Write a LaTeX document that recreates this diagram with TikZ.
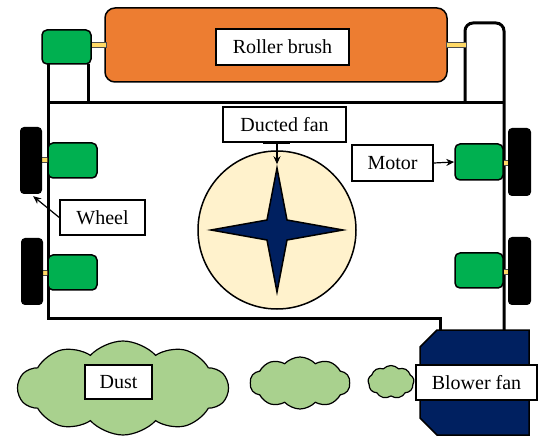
\documentclass[tikz,border=0pt]{standalone}
\usepackage{fontspec}
\setmainfont{Liberation Serif}
\newfontfamily\labelfont{Liberation Serif}
\usetikzlibrary{arrows.meta,shapes.symbols}
\definecolor{brushorange}{HTML}{ED7D31}
\definecolor{motorgreen}{HTML}{00B050}
\definecolor{shaftyellow}{HTML}{FFD966}
\definecolor{fancream}{HTML}{FFF2CC}
\definecolor{navyblue}{HTML}{002060}
\definecolor{dustgreen}{HTML}{A9D18E}

\tikzset{
  frame/.style={line width=3pt, line join=miter},
  labelbox/.style={draw, fill=white, line width=1.5pt, inner sep=0pt,
    font=\labelfont\fontsize{20}{24}\selectfont},
  motor/.style={draw, fill=motorgreen, line width=1.5pt, rounded corners=5pt,
    inner sep=0pt, minimum width=49pt, minimum height=35pt},
  wheel/.style={fill=black, rounded corners=4pt, inner sep=0pt,
    minimum width=22pt, minimum height=67pt},
  shaft/.style={fill=shaftyellow, draw=black!70, line width=0.4pt},
  pointer/.style={line width=1.2pt, -{Stealth[length=8pt,width=7pt]}},
  dust/.style={cloud, cloud ignores aspect, draw, fill=dustgreen,
    line width=1.2pt, inner sep=0pt, cloud puff arc=95}
}

\begin{document}
\begin{tikzpicture}[x=1pt,y=-1pt]
\useasboundingbox (0,0) rectangle (538,438);

% chassis frame and wiring
\draw[frame] (48,64) -- (48,318) -- (440,318) -- (440,332);
\draw[frame] (88,64) -- (88,103);
\draw[frame] (48,103) -- (504,103);
\draw[frame, rounded corners=8pt] (465,103) -- (465,23) -- (504,23) -- (504,332);

% roller brush
\node[draw, fill=brushorange, line width=1.5pt, rounded corners=10pt,
      minimum width=342pt, minimum height=74pt, inner sep=0pt] (brush) at (276,45) {};
\node[labelbox, minimum width=133pt, minimum height=36pt] (brushlabel) at (282.5,47) {Roller brush};

% shafts
\draw[shaft] (89,42) rectangle (106,47);
\draw[shaft] (446,42) rectangle (466,47);
\draw[shaft] (40,157) rectangle (51,162);
\draw[shaft] (40,270) rectangle (51,275);
\draw[shaft] (497,160) rectangle (510,165);
\draw[shaft] (497,269) rectangle (510,274);

% motors
\node[motor, minimum height=34pt] (motorT) at (66.5,47) {};
\node[motor] (motorL1) at (72.5,160.5) {};
\node[motor] (motorL2) at (72.5,272.5) {};
\node[motor, minimum width=48pt, minimum height=36pt] (motorR1) at (479,162) {};
\node[motor, minimum width=48pt] (motorR2) at (479,270.5) {};

% wheels
\node[wheel] (wheelL1) at (31,160.5) {};
\node[wheel] (wheelL2) at (32,271.5) {};
\node[wheel, minimum width=23pt, minimum height=68pt] (wheelR1) at (519.5,162) {};
\node[wheel, minimum width=23pt, minimum height=68pt] (wheelR2) at (519.5,271) {};

% ducted fan
\node[circle, draw, fill=fancream, line width=1.5pt, minimum size=158pt, inner sep=0pt] (fan) at (277,230) {};
\draw[fill=navyblue, line width=1.5pt, line join=miter]
  (277,168) -- (287,220) -- (343,230) -- (287,240) -- (277,292)
  -- (267,240) -- (211,230) -- (267,220) -- cycle;

% labels and pointers
\node[labelbox, minimum width=123pt, minimum height=35pt] (ductlabel) at (284.5,124.5) {Ducted fan};
\coordinate (ductfoot) at (fan.north |- ductlabel.south);
\draw[line width=3pt] ([xshift=-14pt]ductfoot) -- ([xshift=13pt]ductfoot);
\draw[pointer] (ductfoot) -- ([yshift=-14pt]fan.north);

\node[labelbox, minimum width=81pt, minimum height=36pt] (motorlabel) at (392.5,163) {Motor};
\draw[pointer] (motorlabel.east) -- (motorR1.west);

\node[labelbox, minimum width=85pt, minimum height=35pt] (wheellabel) at (102.5,217.5) {Wheel};
\draw[pointer] (wheellabel.west) -- ([xshift=-9pt,yshift=-2pt]wheelL1.south east);

% dust clouds
\node[dust, cloud puffs=10, minimum width=210pt, minimum height=94pt] (dustbig) at (123,388) {};
\node[dust, cloud puffs=10, minimum width=100pt, minimum height=52pt] (dustmid) at (300,383) {};
\node[dust, cloud puffs=9, minimum width=46pt, minimum height=33pt] (dustsmall) at (391,382) {};
\node[labelbox, minimum width=67pt, minimum height=34pt] (dustlabel) at (118.5,382) {Dust};

% blower fan
\draw[fill=navyblue, line width=1.5pt]
  (437,330) -- (529,330) -- (529,435) -- (437,435) -- (420,418) -- (420,347) -- cycle;
\node[labelbox, minimum width=121pt, minimum height=35pt] (blowerlabel) at (476.5,382.5) {Blower fan};
\end{tikzpicture}
\end{document}
